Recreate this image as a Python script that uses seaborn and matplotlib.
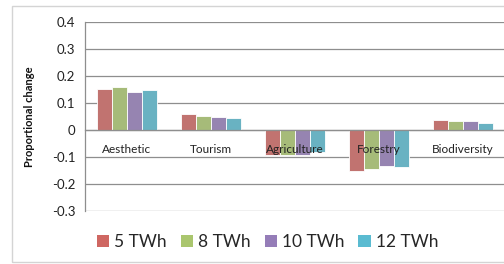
import pandas as pd
import matplotlib.pyplot as plt
import seaborn as sns
from matplotlib.patches import Rectangle

# values
categories = ['Aesthetic', 'Tourism', 'Agriculture', 'Forestry', 'Biodiversity']
scenarios = ['5 TWh', '8 TWh', '10 TWh', '12 TWh']
twh_5 = [0.152, 0.059, -0.093, -0.151, 0.037]
twh_8 = [0.161, 0.052, -0.093, -0.144, 0.032]
twh_10 = [0.142, 0.050, -0.091, -0.132, 0.032]
twh_12 = [0.148, 0.044, -0.083, -0.136, 0.027]
colors = ['#CF6762', '#AAC66E', '#957DB8', '#5ABBD1']
y_ticks = [-0.3, -0.2, -0.1, 0, 0.1, 0.2, 0.3, 0.4]
y_tick_labels = ['-0.3', '-0.2', '-0.1', '0', '0.1', '0.2', '0.3', '0.4']

rows = []
for name, vals in zip(scenarios, [twh_5, twh_8, twh_10, twh_12]):
    for cat, v in zip(categories, vals):
        rows.append({'category': cat, 'scenario': name, 'value': v})
df = pd.DataFrame(rows)

sns.set_style('white')
plt.rcParams['font.family'] = ['Lato', 'DejaVu Sans']

fig = plt.figure(figsize=(5.04, 2.64), dpi=100)
ax = fig.add_axes([85 / 504, 1 - 211 / 264, 420 / 504, 189 / 264])

# light outer chart frame
fig.patches.append(Rectangle((12 / 504, 1 - 262 / 264), 1.0, 256 / 264,
                             transform=fig.transFigure, fill=False,
                             edgecolor='#d4d4d4', linewidth=1.0))

sns.barplot(data=df, x='category', y='value', hue='scenario',
            hue_order=scenarios, palette=colors, width=0.72,
            edgecolor='white', linewidth=0.6, ax=ax, legend=False)

ax.set_ylim(-0.3, 0.4)
ax.set_xlim(-0.5, len(categories) - 0.5)
ax.set_yticks(y_ticks)
ax.set_yticklabels(y_tick_labels)
ax.set_axisbelow(True)
ax.yaxis.grid(True, color='#8e8e8e', linewidth=0.9)
ax.tick_params(axis='y', length=3, width=0.9, color='#8e8e8e',
               labelsize=9.5, labelcolor='#222222', pad=4)

for side in ['top', 'right']:
    ax.spines[side].set_visible(False)
ax.spines['left'].set_color('#8e8e8e')
ax.spines['left'].set_linewidth(0.9)
ax.spines['bottom'].set_position(('data', 0))
ax.spines['bottom'].set_color('#8e8e8e')
ax.spines['bottom'].set_linewidth(0.9)

# category boundaries as small ticks under the zero line
ax.set_xticks([i + 0.5 for i in range(-1, len(categories))], minor=True)
ax.tick_params(axis='x', which='minor', length=3, width=0.9,
               color='#8e8e8e', direction='out')
ax.tick_params(axis='x', which='major', length=0)
ax.set_xticklabels([])
ax.set_xlabel('')

for i, cat in enumerate(categories):
    ax.text(i, -0.074, cat, ha='center', va='center', fontsize=8.5,
            color='#222222', zorder=5)

ax.set_ylabel('Proportional change', fontsize=8, fontweight='bold',
              color='#111111')
ax.yaxis.set_label_coords(-0.119, 0.5)

handles = [Rectangle((0, 0), 1, 1, facecolor=c, edgecolor='none') for c in colors]
fig.legend(handles, scenarios, loc='center', bbox_to_anchor=(0.531, 1 - 242 / 264),
           ncol=4, frameon=False, fontsize=12.5, handlelength=0.7,
           handleheight=0.7, handletextpad=0.3, columnspacing=0.8)

fig.savefig('out.png', dpi=100)
